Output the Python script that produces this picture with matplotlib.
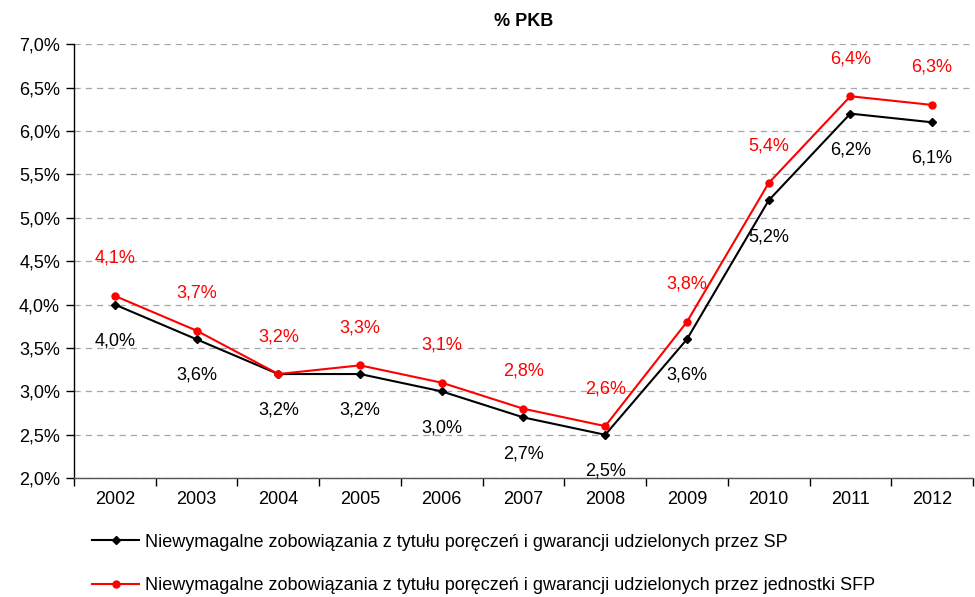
"""Niewymagalne zobowiązania z tytułu poręczeń i gwarancji, % PKB."""

import matplotlib
matplotlib.use("Agg")
import matplotlib.pyplot as plt
from matplotlib.ticker import FixedLocator, FuncFormatter

plt.rcParams["font.family"] = ["Liberation Sans", "DejaVu Sans"]

years = ["2002", "2003", "2004", "2005", "2006", "2007", "2008", "2009", "2010", "2011", "2012"]
sp = [4.0, 3.6, 3.2, 3.2, 3.0, 2.7, 2.5, 3.6, 5.2, 6.2, 6.1]
sfp = [4.1, 3.7, 3.2, 3.3, 3.1, 2.8, 2.6, 3.8, 5.4, 6.4, 6.3]
label_sp = "Niewymagalne zobowiązania z tytułu poręczeń i gwarancji udzielonych przez SP"
label_sfp = "Niewymagalne zobowiązania z tytułu poręczeń i gwarancji udzielonych przez jednostki SFP"


def pl_pct(v, _pos=None):
    return f"{v:.1f}%".replace(".", ",")


fig = plt.figure(figsize=(9.75, 5.97), dpi=100)
ax = fig.add_axes([0.0759, 0.199, 0.922, 0.727])

x = list(range(len(years)))
ax.plot(x, sp, color="black", lw=1.5, marker="D", ms=4.5, label=label_sp, zorder=3)
ax.plot(x, sfp, color="#ff0000", lw=1.5, marker="o", ms=5, label=label_sfp, zorder=3)

for xi, v in zip(x, sp):
    ax.annotate(pl_pct(v), (xi, v), xytext=(0, -26), textcoords="offset points",
                ha="center", va="center", fontsize=13, color="black")
for xi, v in zip(x, sfp):
    ax.annotate(pl_pct(v), (xi, v), xytext=(0, 27), textcoords="offset points",
                ha="center", va="center", fontsize=13, color="#ff0000")

ax.set_xlim(-0.5, len(years) - 0.5)
ax.set_ylim(2.0, 7.0)
ax.set_yticks([2.0 + 0.5 * i for i in range(11)])
ax.yaxis.set_major_formatter(FuncFormatter(pl_pct))
ax.grid(axis="y", color="#a6a6a6", ls=(0, (5, 4)), lw=0.9)
ax.set_axisbelow(True)

ax.set_xticks(x)
ax.set_xticklabels(years)
ax.xaxis.set_minor_locator(FixedLocator([i - 0.5 for i in range(len(years) + 1)]))
ax.tick_params(axis="x", which="major", length=0, pad=9, labelsize=13)
ax.tick_params(axis="x", which="minor", length=6, width=1, direction="out")
ax.tick_params(axis="y", length=6, width=1, direction="out", labelsize=13, pad=4)

for side in ("top", "right"):
    ax.spines[side].set_visible(False)
ax.spines["left"].set_linewidth(1)
ax.spines["bottom"].set_linewidth(1)
ax.spines["bottom"].set_color("#555555")

ax.set_title("% PKB", fontsize=13, fontweight="bold", pad=13)

fig.legend(loc="upper left", bbox_to_anchor=(0.087, 0.118), frameon=False,
           fontsize=13, handlelength=2.6, handletextpad=0.35, labelspacing=1.45,
           borderaxespad=0)

fig.savefig("out.png", dpi=100)
